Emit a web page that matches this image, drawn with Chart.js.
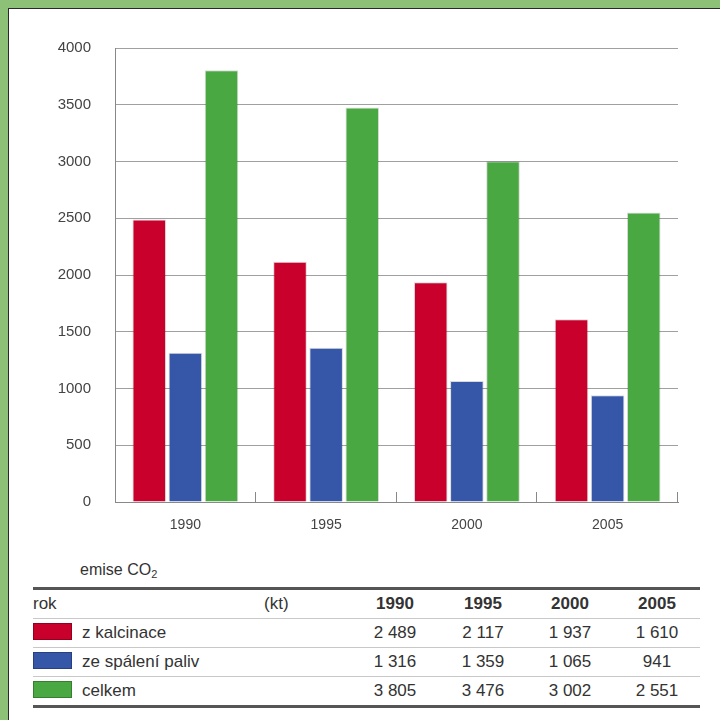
<!DOCTYPE html>
<html>
<head>
<meta charset="utf-8">
<script src="https://cdn.jsdelivr.net/npm/chart.js@4"></script>
<style>
  html, body { margin: 0; padding: 0; }
  body { width: 720px; height: 720px; background: #8cc177; position: relative; overflow: hidden;
         font-family: "Liberation Sans", Arial, sans-serif; color: #333; }
  #panel { position: absolute; left: 8px; top: 8px; right: 0; bottom: 0; background: #fff;
           border-top: 1px solid #2a2a2a; border-left: 1px solid #2a2a2a; }
  #chart { position: absolute; left: 0; top: 0; }
  #caption { position: absolute; left: 80px; top: 561px; font-size: 16px; color: #333; }
  #caption sub { font-size: 11px; vertical-align: -3px; }
  table { position: absolute; left: 33px; top: 587px; width: 667px; border-collapse: collapse;
          table-layout: fixed; font-size: 17px; color: #333; }
  thead tr { border-top: 3px solid #555; }
  tbody tr:last-child { border-bottom: 3px solid #555; }
  td, th { height: 28px; padding: 0; border-bottom: 1px solid #c8c8c8; text-align: center; font-weight: normal; }
  th.yr { font-weight: bold; }
  .lab { text-align: left; }
  .sw { display: inline-block; width: 37px; height: 15px; vertical-align: -2px; margin-right: 10px;
        border: 1px solid rgba(0,0,0,0.25); }
</style>
</head>
<body>
<div id="panel"></div>
<canvas id="chart" width="720" height="545"></canvas>
<div id="caption">emise CO<sub>2</sub></div>
<table id="tbl">
  <colgroup><col style="width:227px"><col style="width:90px"><col style="width:90px"><col style="width:86px"><col style="width:88px"><col style="width:86px"></colgroup>
  <thead></thead>
  <tbody></tbody>
</table>
<script>
const years = ['1990', '1995', '2000', '2005'];
const kalcinace = [2489, 2117, 1937, 1610];
const spaleni = [1316, 1359, 1065, 941];
const celkem = [3805, 3476, 3002, 2551];
const seriesNames = ['z kalcinace', 'ze spálení paliv', 'celkem'];
const colors = ['#c9002b', '#3656a8', '#4aa842'];
const yMax = 4000;
const yStep = 500;

const fmt = v => String(v).replace(/\B(?=(\d{3})+(?!\d))/g, ' ');

// table under the chart
const thead = document.querySelector('#tbl thead');
thead.innerHTML = '<tr><th class="lab">rok</th><th class="lab" style="padding-left:4px">(kt)</th>' +
  years.map(y => '<th class="yr">' + y + '</th>').join('') + '</tr>';
const tbody = document.querySelector('#tbl tbody');
[kalcinace, spaleni, celkem].forEach((vals, i) => {
  tbody.innerHTML += '<tr><td class="lab" colspan="2"><span class="sw" style="background:' + colors[i] + '"></span>' +
    seriesNames[i] + '</td>' + vals.map(v => '<td>' + fmt(v) + '</td>').join('') + '</tr>';
});

// short inward ticks between the year groups
const groupTicks = {
  id: 'groupTicks',
  afterDraw(chart) {
    const x = chart.scales.x, y = chart.scales.y;
    const ctx = chart.ctx;
    const half = x.width / years.length / 2;
    const y0 = y.getPixelForValue(0);
    ctx.save();
    ctx.strokeStyle = '#888';
    ctx.lineWidth = 1;
    years.forEach((_, i) => {
      const px = Math.round(x.getPixelForValue(i) + half) - 0.5;
      ctx.beginPath();
      ctx.moveTo(px, y0);
      ctx.lineTo(px, y0 - 10);
      ctx.stroke();
    });
    ctx.restore();
  }
};

const ds = (label, data, i) => ({
  label, data,
  backgroundColor: colors[i],
  borderColor: 'rgba(0,0,0,0.15)',
  borderWidth: 1,
  barPercentage: 0.93,
  categoryPercentage: 0.77
});

new Chart(document.getElementById('chart'), {
  type: 'bar',
  data: {
    labels: years,
    datasets: [ds(seriesNames[0], kalcinace, 0), ds(seriesNames[1], spaleni, 1), ds(seriesNames[2], celkem, 2)]
  },
  options: {
    responsive: false,
    animation: false,
    layout: { padding: { left: 0, top: 48, right: 42, bottom: 0 } },
    plugins: { legend: { display: false }, tooltip: { enabled: false } },
    scales: {
      x: {
        grid: { display: false },
        border: { color: '#888', width: 1 },
        ticks: { color: '#444', font: { family: 'Liberation Sans', size: 14 }, padding: 7 },
        afterFit: s => { s.height = 43; }
      },
      y: {
        min: 0, max: yMax,
        grid: { color: '#a0a0a0', lineWidth: 1, drawTicks: false },
        border: { color: '#888', width: 1 },
        ticks: { stepSize: yStep, color: '#444', font: { family: 'Liberation Sans', size: 15 }, padding: 24,
                 callback: v => String(v) },
        afterFit: s => { s.width = 115; }
      }
    }
  },
  plugins: [groupTicks]
});
</script>
</body>
</html>
